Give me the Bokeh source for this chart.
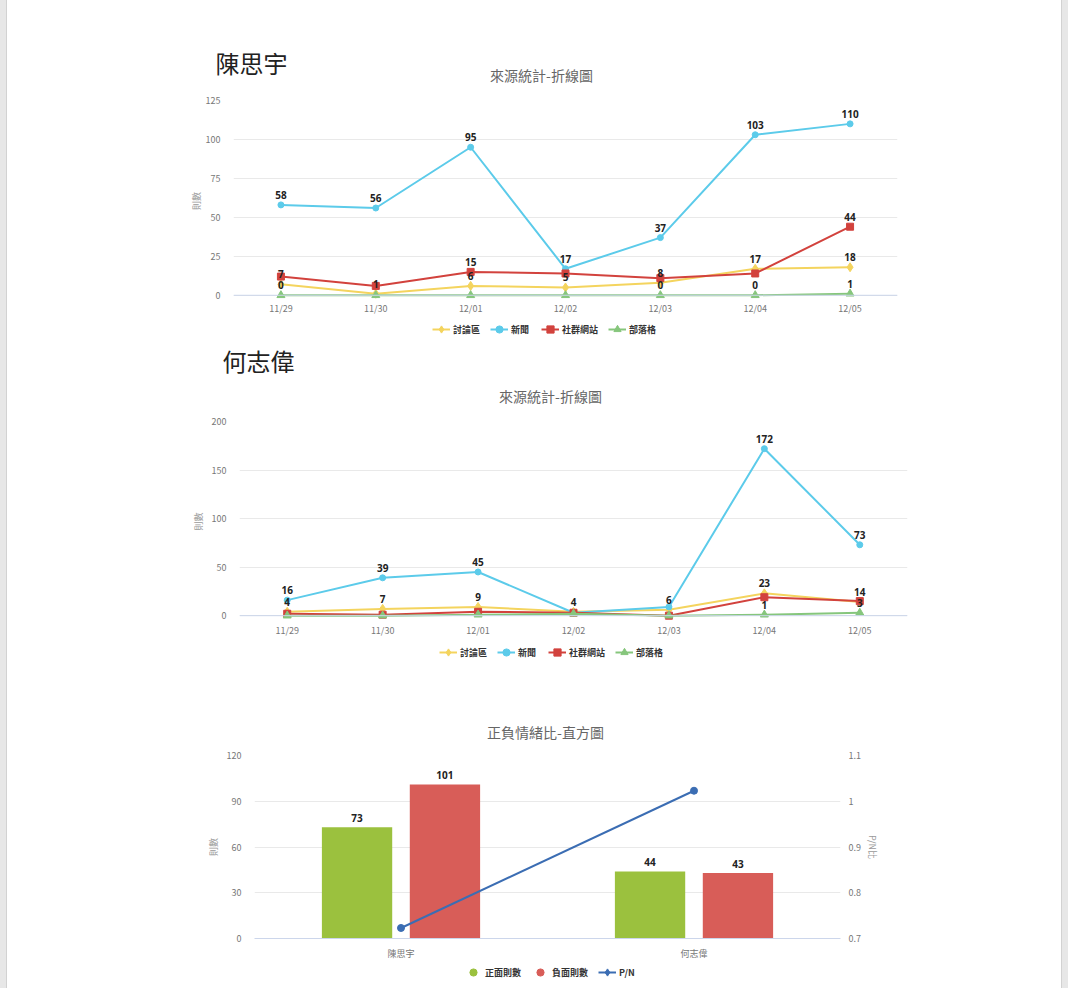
from bokeh.plotting import figure
from bokeh.models import (FactorRange, Range1d, LinearAxis, FixedTicker, Legend, LegendItem,
                          Label, Span, ColumnDataSource, NumeralTickFormatter)
from bokeh.transform import dodge
from bokeh.embed import file_html
from bokeh.resources import INLINE
from bokeh.core.properties import value

# ---------------- data ----------------
dates = ["11/29", "11/30", "12/01", "12/02", "12/03", "12/04", "12/05"]
series_names = ["討論區", "新聞", "社群網站", "部落格"]

chen_forum = [7, 1, 6, 5, 8, 17, 18]
chen_news = [58, 56, 95, 17, 37, 103, 110]
chen_social = [12, 6, 15, 14, 11, 14, 44]
chen_blog = [0, 0, 0, 0, 0, 0, 1]
chen_forum_lbl = ["7", "1", "6", "5", "8", "17", "18"]
chen_news_lbl = ["58", "56", "95", "17", "37", "103", "110"]
chen_social_lbl = ["", "", "15", "", "", "", "44"]
chen_blog_lbl = ["0", "", "", "", "0", "0", "1"]

ho_forum = [4, 7, 9, 4, 6, 23, 14]
ho_news = [16, 39, 45, 3, 9, 172, 73]
ho_social = [2, 1, 4, 3, 0, 19, 15]
ho_blog = [0, 0, 1, 2, 0, 1, 3]
ho_forum_lbl = ["4", "7", "9", "4", "6", "23", "14"]
ho_news_lbl = ["16", "39", "45", "", "", "172", "73"]
ho_social_lbl = ["", "", "", "", "", "", ""]
ho_blog_lbl = ["", "", "", "", "", "1", "3"]

people = ["陳思宇", "何志偉"]
bar_names = ["正面則數", "負面則數", "P/N"]
positive = [73, 44]
negative = [101, 43]
pn_ratio = [0.723, 1.023]

chen_ticks = [0, 25, 50, 75, 100, 125]
ho_ticks = [0, 50, 100, 150, 200]
bar_ticks = [0, 30, 60, 90, 120]
pn_ticks = [0.7, 0.8, 0.9, 1.0, 1.1]

line_title = "來源統計-折線圖"
bar_title = "正負情緒比-直方圖"

# ---------------- style ----------------
FONT = "Noto Sans CJK TC"
C_FORUM = "#F4D45E"
C_NEWS = "#5CCBEA"
C_SOCIAL = "#D2423D"
C_BLOG = "#86C67C"
COLORS = [C_FORUM, C_NEWS, C_SOCIAL, C_BLOG]
MARKERS = ["diamond", "circle", "square", "triangle"]
SIZES = [9, 6, 7, 8]
C_POS = "#9BC13E"
C_NEG = "#D85D58"
C_PN = "#3B6DB3"
GRID = "#e9e9e9"
W = 1068
NAN = float("nan")
PAGE_BG = ("linear-gradient(to right, #e7e7e7 0px, #e7e7e7 6px, #d2d2d2 6px, #d2d2d2 7px, "
           "#ffffff 7px, #ffffff 1061px, #d2d2d2 1061px, #d2d2d2 1062px, #e7e7e7 1062px)")


def page_style(p):
    p.border_fill_color = None
    p.styles = {"background": PAGE_BG}


def blank(height):
    """A decoration strip: frame spans the whole strip, 1 unit = 1 pixel."""
    p = figure(width=W, height=height, x_range=Range1d(0, W), y_range=Range1d(0, height),
               min_border=0, x_axis_location=None, y_axis_location=None,
               toolbar_location=None, output_backend="svg")
    p.grid.visible = False
    p.outline_line_color = None
    p.background_fill_color = None
    page_style(p)
    return p


def add_label(p, x, y, text, size, color, align="center"):
    p.add_layout(Label(x=x, y=y, text=text, text_align=align, text_baseline="middle",
                       text_font=FONT, text_font_size=size, text_color=color))


def add_legend(p, items, loc):
    leg = Legend(items=items, orientation="horizontal", location=loc,
                 border_line_color=None, background_fill_alpha=0, padding=0, margin=0,
                 spacing=10, glyph_width=18, glyph_height=18, label_height=12,
                 label_standoff=3, label_text_font=FONT, label_text_font_size="9px",
                 label_text_font_style="bold", label_text_color="#333")
    p.add_layout(leg, "center")


def line_legend_items(p):
    items = []
    for nm, c, m, s in zip(series_names, COLORS, MARKERS, SIZES):
        rl = p.line(x=[NAN], y=[NAN], line_color=c, line_width=2)
        rm = p.scatter(x=[NAN], y=[NAN], marker=m, size=s, fill_color=c, line_color=c)
        items.append(LegendItem(label=nm, renderers=[rl, rm]))
    return items


def style_axes(p, ticks, tick_stand, lab_stand):
    p.outline_line_color = None
    page_style(p)
    p.xgrid.grid_line_color = None
    p.ygrid.ticker = FixedTicker(ticks=ticks)
    p.ygrid.grid_line_color = GRID
    ya = p.yaxis[0]
    ya.ticker = FixedTicker(ticks=ticks)
    ya.axis_line_color = None
    ya.major_tick_line_color = None
    ya.minor_tick_line_color = None
    ya.major_tick_out = 0
    ya.major_label_standoff = tick_stand
    ya.major_label_text_font = FONT
    ya.major_label_text_font_size = "9px"
    ya.major_label_text_color = "#777"
    ya.axis_label = "則數"
    ya.axis_label_text_font = FONT
    ya.axis_label_text_font_size = "9px"
    ya.axis_label_text_font_style = "normal"
    ya.axis_label_text_color = "#999"
    ya.axis_label_standoff = lab_stand
    xa = p.xaxis[0]
    xa.major_tick_line_color = None
    xa.major_tick_out = 0
    xa.major_label_text_font = FONT
    xa.major_label_text_font_size = "9px"
    xa.major_label_text_color = "#777"


def line_chart(series, labels, ymin, ymax, ticks, height, left, right, bottom, lab_stand, xstand):
    p = figure(width=W, height=height, x_range=FactorRange(*dates), y_range=Range1d(ymin, ymax),
               min_border_top=8, min_border_left=left, min_border_right=W - right,
               min_border_bottom=bottom, output_backend="svg", toolbar_location=None)
    style_axes(p, ticks, 13, lab_stand)
    p.xaxis[0].axis_line_color = None
    p.xaxis[0].major_label_standoff = xstand
    p.add_layout(Span(location=0, dimension="width", line_color="#ccd6eb", line_width=1))
    srcs = []
    for vals, lbls, c, m, s in zip(series, labels, COLORS, MARKERS, SIZES):
        src = ColumnDataSource(dict(x=dates, y=vals, t=lbls))
        srcs.append(src)
        p.line("x", "y", source=src, line_color=c, line_width=2)
        p.scatter("x", "y", source=src, marker=m, size=s, fill_color=c, line_color=c)
    for src in srcs:
        p.text("x", "y", text="t", source=src, text_align="center", text_baseline="middle",
               y_offset=-10, text_font=value("Noto Sans"), text_font_size="10px",
               text_font_style="bold", text_color="#222")
    return p


# ---- strip 1: name + title of chart 1 (page y 0-92)
h1 = blank(92)
add_label(h1, 215, 30, "陳思宇", "24px", "#222", "left")
add_label(h1, 541, 18, line_title, "14px", "#666")

# ---- chart 1 (page y 92-317), frame 100-301
p1 = line_chart([chen_forum, chen_news, chen_social, chen_blog],
                [chen_forum_lbl, chen_news_lbl, chen_social_lbl, chen_blog_lbl],
                -4, 125, chen_ticks, 225, 233, 897, 16, 0, 0)

# ---- strip 2: legend 1 + name/title of chart 2 (page y 317-413)
h2 = blank(96)
add_legend(h2, line_legend_items(h2), (432, 75))
add_label(h2, 222, 53, "何志偉", "24px", "#222", "left")
add_label(h2, 550, 18, line_title, "14px", "#666")

# ---- chart 2 (page y 413-639), frame 421-623
p2 = line_chart([ho_forum, ho_news, ho_social, ho_blog],
                [ho_forum_lbl, ho_news_lbl, ho_social_lbl, ho_blog_lbl],
                -6, 200, ho_ticks, 226, 239, 907, 16, 4, 2)

# ---- strip 3: legend 2 + title of chart 3 (page y 639-747)
h3 = blank(108)
add_legend(h3, line_legend_items(h3), (439, 86))
add_label(h3, 545, 16, bar_title, "14px", "#666")

# ---- chart 3 (page y 747-962), frame 755-940
p3 = figure(width=W, height=215, x_range=FactorRange(*people), y_range=Range1d(0, 120),
            min_border_top=8, min_border_left=254, min_border_right=W - 840, min_border_bottom=22,
            output_backend="svg", toolbar_location=None)
p3.extra_y_ranges = {"pn": Range1d(0.7, 1.1)}
style_axes(p3, bar_ticks, 13, 4)
p3.xaxis[0].axis_line_color = "#ccd6eb"
p3.xaxis[0].major_label_standoff = 8

bsrc = ColumnDataSource(dict(p=people, pos=positive, neg=negative, pn=pn_ratio,
                             pos_t=[str(v) for v in positive], neg_t=[str(v) for v in negative]))
p3.vbar(x=dodge("p", -0.15, range=p3.x_range), top="pos", width=0.24, source=bsrc,
        fill_color=C_POS, line_color=None)
p3.vbar(x=dodge("p", 0.15, range=p3.x_range), top="neg", width=0.24, source=bsrc,
        fill_color=C_NEG, line_color=None)
p3.text(x=dodge("p", -0.15, range=p3.x_range), y="pos", text="pos_t", source=bsrc,
        text_align="center", text_baseline="middle", y_offset=-9, text_font=value("Noto Sans"),
        text_font_size="10px", text_font_style="bold", text_color="#222")
p3.text(x=dodge("p", 0.15, range=p3.x_range), y="neg", text="neg_t", source=bsrc,
        text_align="center", text_baseline="middle", y_offset=-9, text_font=value("Noto Sans"),
        text_font_size="10px", text_font_style="bold", text_color="#222")
p3.line("p", "pn", source=bsrc, y_range_name="pn", line_color=C_PN, line_width=2)
p3.scatter("p", "pn", source=bsrc, y_range_name="pn", marker="circle", size=7,
           fill_color=C_PN, line_color=C_PN)

ra = LinearAxis(y_range_name="pn", ticker=FixedTicker(ticks=pn_ticks),
                formatter=NumeralTickFormatter(format="0.[0]"), axis_label="P/N比")
ra.axis_line_color = None
ra.major_tick_line_color = None
ra.minor_tick_line_color = None
ra.major_tick_out = 0
ra.major_label_standoff = 8
ra.major_label_text_font = FONT
ra.major_label_text_font_size = "9px"
ra.major_label_text_color = "#777"
ra.axis_label_text_font = FONT
ra.axis_label_text_font_size = "9px"
ra.axis_label_text_font_style = "normal"
ra.axis_label_text_color = "#999"
ra.axis_label_standoff = 2
p3.add_layout(ra, "right")

# ---- strip 4: legend 3 (page y 962-988)
h4 = blank(26)
lp = h4.scatter(x=[NAN], y=[NAN], marker="circle", size=9, fill_color=C_POS, line_color=C_POS)
ln = h4.scatter(x=[NAN], y=[NAN], marker="circle", size=9, fill_color=C_NEG, line_color=C_NEG)
ll = h4.line(x=[NAN], y=[NAN], line_color=C_PN, line_width=2)
lm = h4.scatter(x=[NAN], y=[NAN], marker="diamond", size=7, fill_color=C_PN, line_color=C_PN)
add_legend(h4, [LegendItem(label=bar_names[0], renderers=[lp]),
                LegendItem(label=bar_names[1], renderers=[ln]),
                LegendItem(label=bar_names[2], renderers=[ll, lm])], (464, 7))

open("out.html", "w").write(file_html([h1, p1, h2, p2, h3, p3, h4], INLINE))
